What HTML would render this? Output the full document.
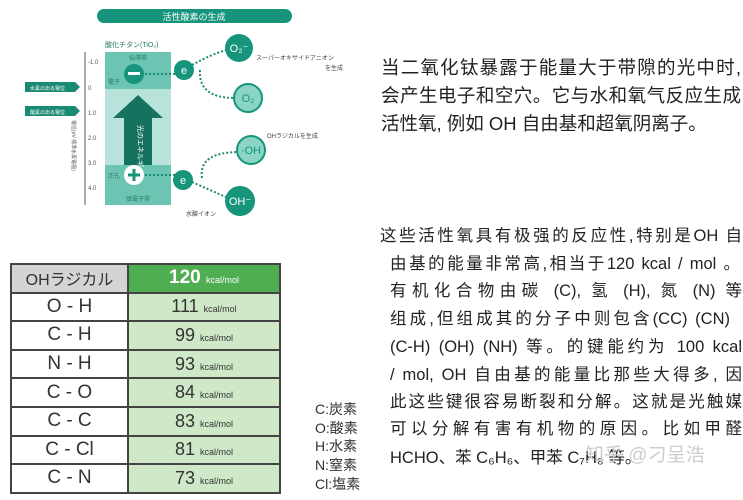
<!DOCTYPE html>
<html><head><meta charset="utf-8"><style>
body{margin:0;width:743px;height:500px;background:#fff;position:relative;overflow:hidden;font-family:"Liberation Sans","Noto Sans CJK SC",sans-serif}
.l{position:absolute;white-space:nowrap;color:#222}
.j{text-align:justify;text-align-last:justify}
.p1{font-size:18.5px;left:381px;width:360px}
.p2{font-size:16.5px}
table{position:absolute;left:10px;top:263px;border-collapse:collapse;width:271px}
td{border:2px solid #444;height:26.6px;font-size:19px;text-align:center;color:#333;padding:0}
td.v{background:#cfe9c8;font-size:18px}
td small{font-size:9px;font-weight:normal}
.lg{position:absolute;left:315px;font-size:14px;color:#333;font-family:"Liberation Sans","Noto Sans CJK JP",sans-serif}
</style></head><body>
<svg width="370" height="230" style="position:absolute;left:0;top:0" font-family="Liberation Sans, Noto Sans CJK JP, sans-serif">
<rect x="97" y="9" width="195" height="14" rx="7" fill="#16957c"/>
<text x="194" y="20" font-size="9" fill="#fff" text-anchor="middle">活性酸素の生成</text>
<text x="105" y="47" font-size="7" fill="#2a7a68">酸化チタン(TiO₂)</text>
<line x1="85" y1="52" x2="85" y2="205" stroke="#555"/>
<g font-size="6" fill="#555"><text x="88" y="64">-1.0</text><text x="88" y="90">0</text><text x="88" y="115">1.0</text><text x="88" y="140">2.0</text><text x="88" y="165">3.0</text><text x="88" y="190">4.0</text></g>
<text x="72" y="120" font-size="5" fill="#555" transform="rotate(90 72 120)">電位(eV 標準水素電極)</text>
<path d="M25 82 h50 l5 5 -5 5 h-50z" fill="#1b8a74"/><text x="30" y="90" font-size="5" fill="#fff">水素の出る電位</text>
<path d="M25 106 h50 l5 5 -5 5 h-50z" fill="#1b8a74"/><text x="30" y="114" font-size="5" fill="#fff">酸素の出る電位</text>
<rect x="105" y="52" width="66" height="37" fill="#6cc5b3"/>
<rect x="105" y="89" width="66" height="76" fill="#b7e3da"/>
<rect x="105" y="165" width="66" height="40" fill="#6cc5b3"/>
<text x="138" y="60" font-size="6" fill="#2a7a68" text-anchor="middle">伝導帯</text>
<text x="108" y="84" font-size="6" fill="#2a7a68">電子</text>
<text x="108" y="178" font-size="6" fill="#2a7a68">正孔</text>
<text x="138" y="201" font-size="6" fill="#2a7a68" text-anchor="middle">価電子帯</text>
<path d="M113 118 L138 95 L163 118 H152 V165 H124 V118Z" fill="#14725f"/>
<text x="138" y="125" font-size="7" fill="#fff" transform="rotate(90 138 125)">光のエネルギー</text>
<circle cx="134" cy="74" r="10" fill="#16957c"/><rect x="128" y="72" width="12" height="3" fill="#fff"/>
<circle cx="134" cy="175" r="10" fill="#fff"/><path d="M128 175h12M134 169v12" stroke="#16957c" stroke-width="3"/>
<g stroke="#1b8a74" stroke-width="2" stroke-dasharray="2 2" fill="none">
<path d="M145 74 H175"/><path d="M192 65 Q210 55 226 50"/><path d="M200 70 Q198 98 235 98"/>
<path d="M145 175 H175"/><path d="M192 182 Q210 190 228 198"/><path d="M202 178 Q198 152 240 152"/>
</g>
<g font-size="11" text-anchor="middle">
<circle cx="184" cy="70" r="10" fill="#16957c"/><text x="184" y="74" fill="#fff">e</text>
<circle cx="239" cy="48" r="14" fill="#16957c"/><text x="239" y="52" fill="#fff">O₂⁻</text>
<circle cx="248" cy="98" r="14" fill="#8bd4c6" stroke="#16957c" stroke-width="2"/><text x="248" y="102" fill="#16957c">O₂</text>
<circle cx="251" cy="150" r="14" fill="#8bd4c6" stroke="#16957c" stroke-width="2"/><text x="251" y="154" fill="#16957c">·OH</text>
<circle cx="183" cy="180" r="10" fill="#16957c"/><text x="183" y="184" fill="#fff">e</text>
<circle cx="240" cy="201" r="15" fill="#16957c"/><text x="240" y="205" fill="#fff">OH⁻</text>
</g>
<text x="256" y="60" font-size="6" fill="#444">スーパーオキサイドアニオン</text>
<text x="325" y="70" font-size="6" fill="#444">を生成</text>
<text x="267" y="138" font-size="6" fill="#444">OHラジカルを生成</text>
<text x="186" y="216" font-size="6" fill="#444">水酸イオン</text>
</svg>
<div class="l p1 j" style="top:54px">当二氧化钛暴露于能量大于带隙的光中时,</div>
<div class="l p1 j" style="top:82px">会产生电子和空穴。它与水和氧气反应生成</div>
<div class="l p1" style="top:110px">活性氧, 例如 OH 自由基和超氧阴离子。</div>
<div class="l p2 j" style="top:222px;left:380px;width:362px">这些活性氧具有极强的反应性,特别是OH 自</div>
<div class="l p2 j" style="top:250px;left:390px;width:350px">由基的能量非常高,相当于120 kcal / mol 。</div>
<div class="l p2 j" style="top:277px;left:390px;width:352px">有机化合物由碳 (C), 氢 (H), 氮 (N) 等</div>
<div class="l p2 j" style="top:305px;left:390px;width:340px">组成,但组成其的分子中则包含(CC) (CN)</div>
<div class="l p2 j" style="top:333px;left:390px;width:352px">(C-H) (OH) (NH) 等。的键能约为 100 kcal</div>
<div class="l p2 j" style="top:361px;left:390px;width:352px">/ mol, OH 自由基的能量比那些大得多, 因</div>
<div class="l p2 j" style="top:388px;left:390px;width:352px">此这些键很容易断裂和分解。这就是光触媒</div>
<div class="l p2 j" style="top:415px;left:390px;width:352px">可以分解有害有机物的原因。比如甲醛</div>
<div class="l p2" style="top:444px;left:390px">HCHO、苯 C₆H₆、甲苯 C₇H₈ 等。</div>
<div class="l" style="top:440px;left:585px;font-size:19px;color:#ccc">知乎 @刁呈浩</div>
<table>
<tr><td style="background:#d4d4d4;width:115px;font-family:'Liberation Sans','Noto Sans CJK JP',sans-serif;font-size:16px">OHラジカル</td><td style="background:#4fae52;color:#fff;font-weight:bold">120 <small>kcal/mol</small></td></tr>
<tr><td>O - H</td><td class="v">111 <small>kcal/mol</small></td></tr>
<tr><td>C - H</td><td class="v">99 <small>kcal/mol</small></td></tr>
<tr><td>N - H</td><td class="v">93 <small>kcal/mol</small></td></tr>
<tr><td>C - O</td><td class="v">84 <small>kcal/mol</small></td></tr>
<tr><td>C - C</td><td class="v">83 <small>kcal/mol</small></td></tr>
<tr><td>C - Cl</td><td class="v">81 <small>kcal/mol</small></td></tr>
<tr><td>C - N</td><td class="v">73 <small>kcal/mol</small></td></tr>
</table>
<div class="lg" style="top:399px">C:炭素</div>
<div class="lg" style="top:418px">O:酸素</div>
<div class="lg" style="top:436px">H:水素</div>
<div class="lg" style="top:455px">N:窒素</div>
<div class="lg" style="top:474px">Cl:塩素</div>
</body></html>
